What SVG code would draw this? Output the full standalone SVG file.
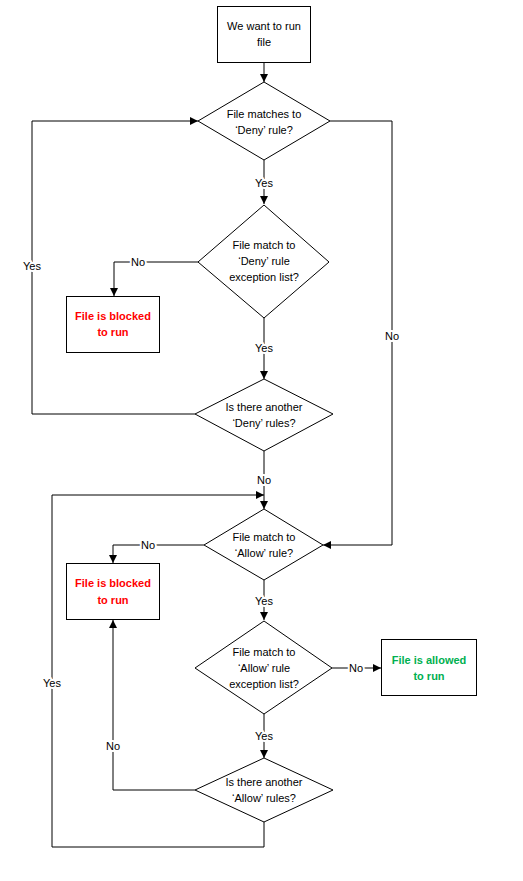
<svg xmlns="http://www.w3.org/2000/svg" width="523" height="881" viewBox="0 0 523 881">
<style>
.shape{fill:#fff;stroke:#000;stroke-width:1}
.t{font-family:"Liberation Sans",Arial,sans-serif;font-size:11px;fill:#000;text-anchor:middle}
.b{font-weight:bold}
.red{fill:#ff0000}
.green{fill:#00b050}
.line{fill:none;stroke:#000;stroke-width:1}
.lbl{font-family:"Liberation Sans",Arial,sans-serif;font-size:11px;fill:#000;text-anchor:middle;stroke:#fff;stroke-width:4px;paint-order:stroke;stroke-linejoin:round}
</style>
<defs>
<marker id="arr" viewBox="0 0 8 8" refX="8" refY="4" markerWidth="8" markerHeight="8" markerUnits="userSpaceOnUse" orient="auto">
<path d="M0,0 L8,4 L0,8 z" fill="#000"/>
</marker>
</defs>
<rect width="523" height="881" fill="#fff"/>
<g id="connectors">
<path class="line" d="M264,63 V82" marker-end="url(#arr)"/>
<path class="line" d="M264,160 V204" marker-end="url(#arr)"/>
<path class="line" d="M198,262 H114 V296" marker-end="url(#arr)"/>
<path class="line" d="M264,318 V379" marker-end="url(#arr)"/>
<path class="line" d="M195,414 H32 V121 H198" marker-end="url(#arr)"/>
<path class="line" d="M330,121 H392 V545 H323" marker-end="url(#arr)"/>
<path class="line" d="M264,451 V509" marker-end="url(#arr)"/>
<path class="line" d="M204,545 H113 V563" marker-end="url(#arr)"/>
<path class="line" d="M264,580 V620" marker-end="url(#arr)"/>
<path class="line" d="M332,668 H381" marker-end="url(#arr)"/>
<path class="line" d="M264,714 V758" marker-end="url(#arr)"/>
<path class="line" d="M195,790 H113 V620" marker-end="url(#arr)"/>
<path class="line" d="M264,822 V847 H52 V495 H264" marker-end="url(#arr)"/>
<text class="lbl" x="264" y="187">Yes</text>
<text class="lbl" x="138" y="266">No</text>
<text class="lbl" x="32" y="270">Yes</text>
<text class="lbl" x="264" y="352">Yes</text>
<text class="lbl" x="392" y="340">No</text>
<text class="lbl" x="264" y="484">No</text>
<text class="lbl" x="148" y="549">No</text>
<text class="lbl" x="264" y="605">Yes</text>
<text class="lbl" x="356" y="672">No</text>
<text class="lbl" x="52" y="687">Yes</text>
<text class="lbl" x="264" y="740">Yes</text>
<text class="lbl" x="113" y="750">No</text>
</g>
<g id="start">
<rect class="shape" x="217.5" y="6.5" width="93" height="56"/>
<text class="t" x="264" y="30">We want to run</text>
<text class="t" x="264" y="46">file</text>
</g>
<g id="d1">
<polygon class="shape" points="264,82 330,121 264,160 198,121"/>
<text class="t" x="264" y="118">File matches to</text>
<text class="t" x="264" y="134">‘Deny’ rule?</text>
</g>
<g id="d2">
<polygon class="shape" points="264,205 329,262 264,318 198,262"/>
<text class="t" x="264" y="249">File match to</text>
<text class="t" x="264" y="265">‘Deny’ rule</text>
<text class="t" x="264" y="281">exception list?</text>
</g>
<g id="blocked1">
<rect class="shape" x="66.5" y="296.5" width="93" height="56"/>
<text class="t b red" x="113" y="320">File is blocked</text>
<text class="t b red" x="113" y="336">to run</text>
</g>
<g id="d3">
<polygon class="shape" points="264,379 333,414 264,451 195,414"/>
<text class="t" x="264" y="411">Is there another</text>
<text class="t" x="264" y="427">‘Deny’ rules?</text>
</g>
<g id="d4">
<polygon class="shape" points="264,509 323,545 264,580 204,545"/>
<text class="t" x="264" y="541">File match to</text>
<text class="t" x="264" y="557">‘Allow’ rule?</text>
</g>
<g id="blocked2">
<rect class="shape" x="66.5" y="563.5" width="93" height="56"/>
<text class="t b red" x="113" y="587">File is blocked</text>
<text class="t b red" x="113" y="604">to run</text>
</g>
<g id="d5">
<polygon class="shape" points="264,621 332,668 264,714 195,668"/>
<text class="t" x="264" y="656">File match to</text>
<text class="t" x="264" y="672">‘Allow’ rule</text>
<text class="t" x="264" y="688">exception list?</text>
</g>
<g id="allowed">
<rect class="shape" x="381.5" y="639.5" width="95" height="56"/>
<text class="t b green" x="429" y="664">File is allowed</text>
<text class="t b green" x="429" y="680">to run</text>
</g>
<g id="d6">
<polygon class="shape" points="264,758 333,790 264,822 195,790"/>
<text class="t" x="264" y="786">Is there another</text>
<text class="t" x="264" y="802">‘Allow’ rules?</text>
</g>
</svg>
